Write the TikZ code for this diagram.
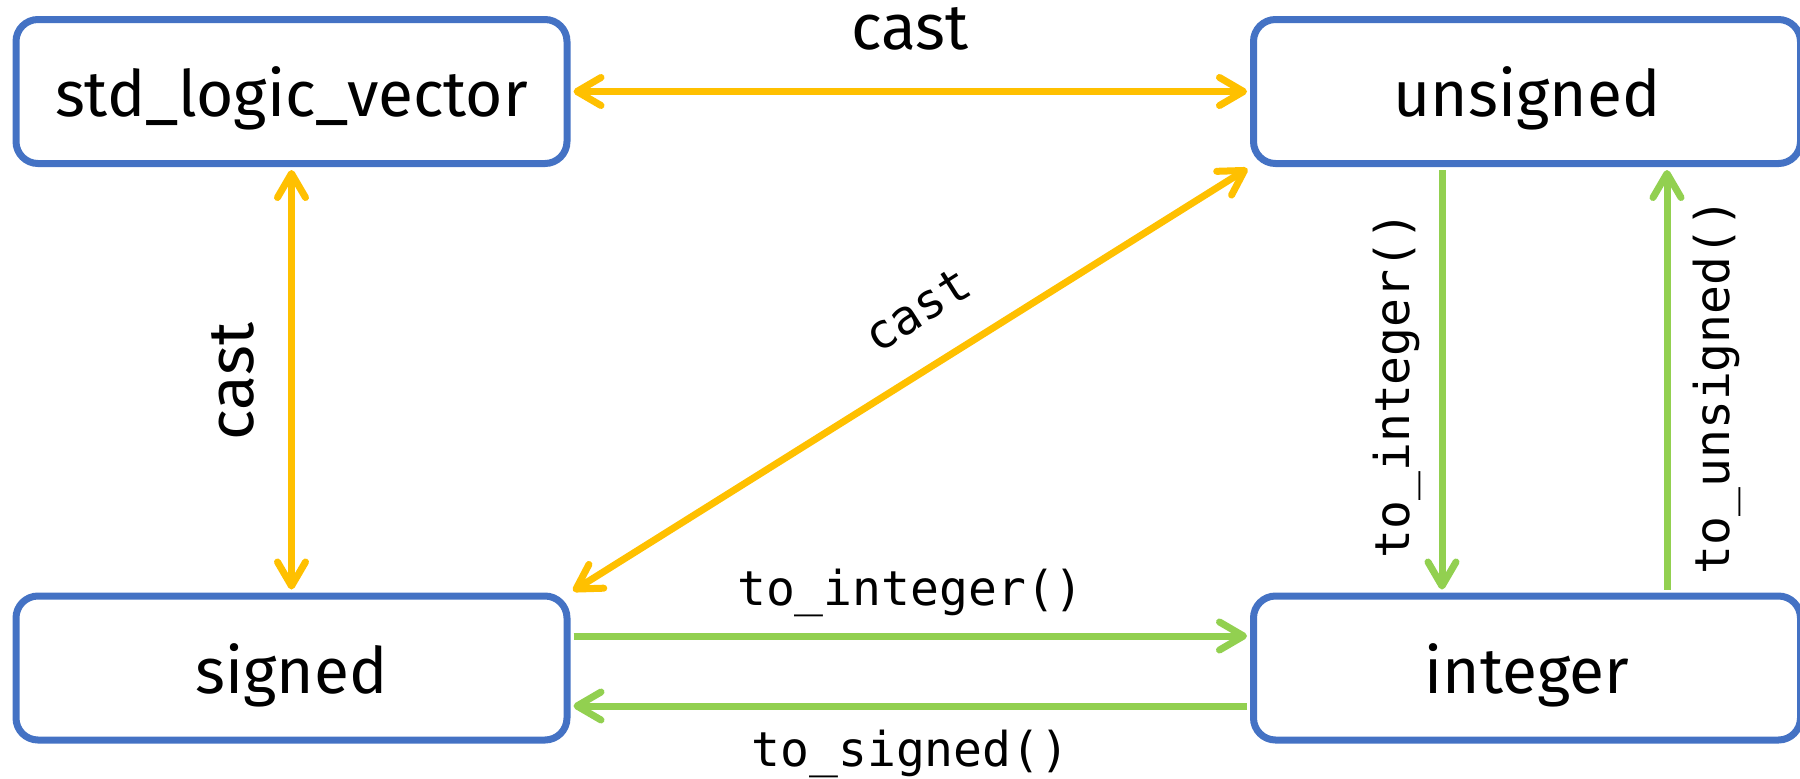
\documentclass[tikz,border=0pt]{standalone}
\usepackage{fontspec}
\setmainfont{Fira Sans}
\newfontfamily\monofont{DejaVu Sans Mono}
\usetikzlibrary{arrows.meta}
\definecolor{boxblue}{HTML}{4472C4}
\definecolor{castyellow}{HTML}{FFC000}
\definecolor{fngreen}{HTML}{92D050}
\begin{document}
\begin{tikzpicture}[x=0.5pt,y=-0.5pt,
  >={Straight Barb[length=12pt,width=14pt,line cap=round,line join=round]},
  typebox/.style={draw=boxblue, line width=3.5pt, rounded corners=11pt, fill=white,
    minimum height=72pt, inner sep=0pt, text height=25pt, text depth=0pt,
    font=\fontsize{32}{38}\selectfont},
  leftbox/.style={typebox, minimum width=275.5pt},
  rightbox/.style={typebox, minimum width=273.5pt},
  castarrow/.style={draw=castyellow, line width=3.5pt, <->, shorten <=1.5pt, shorten >=1.5pt},
  fnarrow/.style={draw=fngreen, line width=3.5pt, ->, shorten <=1.5pt, shorten >=1.5pt},
  sanslabel/.style={inner sep=0pt, font=\fontsize{32}{38}\selectfont},
  monolabel/.style={inner sep=0pt, font=\monofont\fontsize{24}{28}\selectfont}
]
\useasboundingbox (0,0) rectangle (1800,778);
\node[leftbox] (slv) at (291.5,91.5) {std\_logic\_vector};
\node[rightbox] (uns) at (1527,91.5) {unsigned};
\node[leftbox] (sig) at (291.5,668) {signed};
\node[rightbox] (int) at (1527,668) {integer};

\draw[castarrow] (slv.east) -- (uns.west);
\draw[castarrow] (slv.south) -- (sig.north);
\draw[castarrow] (sig.north east) -- (uns.south west);

\draw[fnarrow] ([yshift=16pt]sig.east) -- ([yshift=16pt]int.west);
\draw[fnarrow] ([yshift=-19pt]int.west) -- ([yshift=-19pt]sig.east);
\draw[fnarrow] ([xshift=-42.5pt]uns.south) -- ([xshift=-42.5pt]int.north);
\draw[fnarrow] ([xshift=70pt]int.north) -- ([xshift=70pt]uns.south);

\node[sanslabel] (c1) at (910,28.5) {cast};
\node[sanslabel, rotate=90] (c2) at (232.5,381.5) {cast};
\node[monolabel, rotate=32.35] (c3) at (917,310) {cast};
\node[monolabel] (l1) at (910.5,592.5) {to\_integer()};
\node[monolabel] (l2) at (910.5,754) {to\_signed()};
\node[monolabel, rotate=90] (l3) at (1397,385) {to\_integer()};
\node[monolabel, rotate=90] (l4) at (1717,386.5) {to\_unsigned()};
\end{tikzpicture}
\end{document}
